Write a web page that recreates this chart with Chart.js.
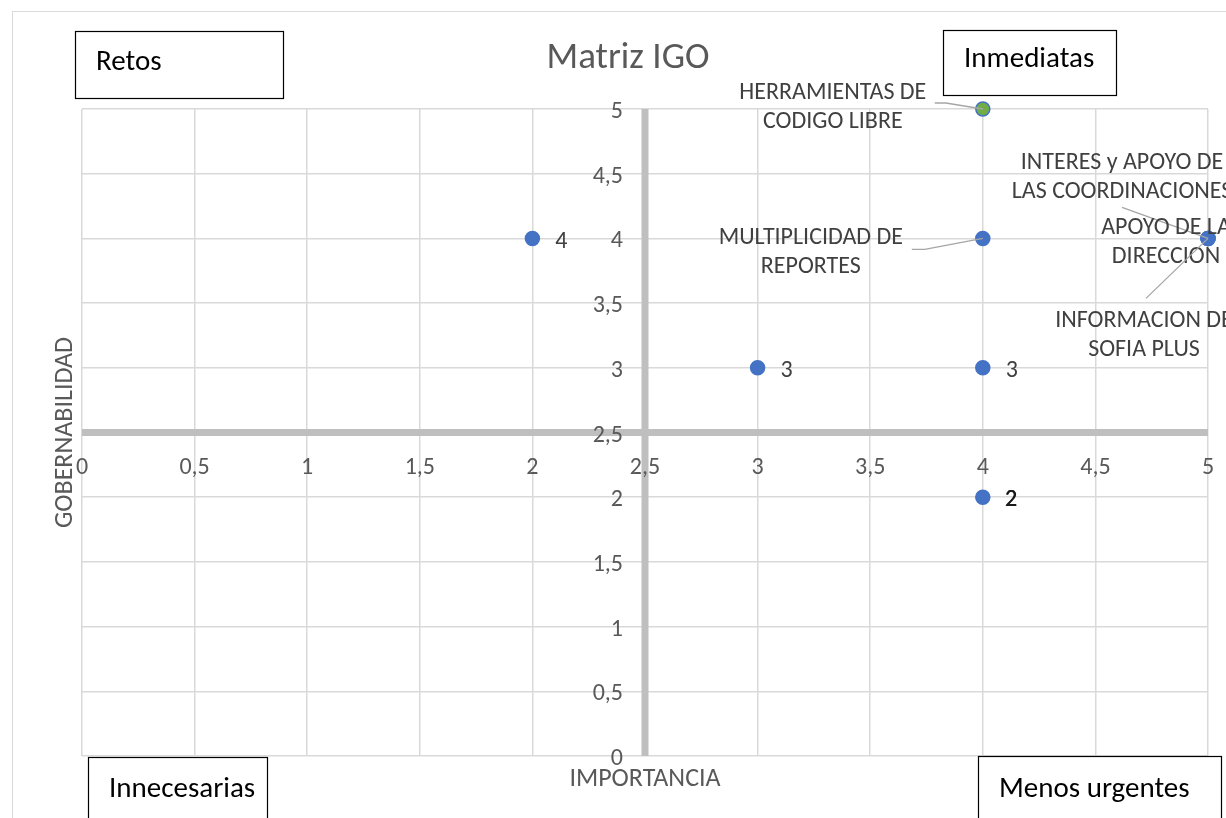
<!DOCTYPE html>
<html>
<head>
<meta charset="utf-8">
<title>Matriz IGO</title>
<script src="https://cdn.jsdelivr.net/npm/chart.js@4/dist/chart.umd.min.js"></script>
<style>
  html, body { margin: 0; padding: 0; background: #ffffff; }
  #wrap { width: 1226px; height: 818px; position: relative; }
</style>
</head>
<body>
<div id="wrap"><canvas id="matriz" width="1226" height="818"></canvas></div>
<script>
// Factores evaluados: importancia (x) y gobernabilidad (y)
const factorLabels = [
  ['HERRAMIENTAS DE', 'CODIGO LIBRE'],
  ['MULTIPLICIDAD DE', 'REPORTES'],
  ['INTERES y APOYO DE', 'LAS COORDINACIONES'],
  ['APOYO DE LA', 'DIRECCION'],
  ['INFORMACION DE', 'SOFIA PLUS'],
  null,
  null,
  null,
  null
];
const importancia   = [4, 4, 5, 5, 5, 2, 3, 4, 4];
const gobernabilidad = [5, 4, 4, 4, 4, 4, 3, 3, 2];

// Escalas de 0 a 5 en pasos de 0,5
const tickValues = [0, 0.5, 1, 1.5, 2, 2.5, 3, 3.5, 4, 4.5, 5];
const axisCross = 2.5;

const chartTitle = 'Matriz IGO';
const xAxisTitle = 'IMPORTANCIA';
const yAxisTitle = 'GOBERNABILIDAD';
const quadrantNames = ['Retos', 'Inmediatas', 'Innecesarias', 'Menos urgentes'];

// Colores y tipografía
const FONT = 'Carlito, Lato, "Open Sans", sans-serif';
const BLUE = '#4472C4';
const GREEN = '#70AD47';
const TEXT_GRAY = '#595959';
const LABEL_GRAY = '#404040';
const GRID = '#d9d9d9';
const AXIS = '#bfbfbf';
const TEXT_SHIFT = 2; // ajuste vertical del texto centrado

// Ubicación de cada etiqueta respecto a su punto (centro del texto) y quiebres de la línea guía
const labelPlacement = [
  { dx: -150, dy: -4, leader: [[-48, -6], [-37, -6]] },
  { dx: -172, dy: 12, leader: [[-71, 11], [-58, 11]] },
  { dx: -86, dy: -63, leader: [[-86, -31]] },
  { dx: -42, dy: 2, leader: null },
  { dx: -64, dy: 95, leader: [[-62, 60]] },
  { dx: 29, dy: 2, leader: null },
  { dx: 29, dy: 1, leader: null },
  { dx: 29, dy: 1, leader: null },
  { dx: 28, dy: 1, leader: null, strong: true }
];

const points = importancia.map((x, i) => ({ x: x, y: gobernabilidad[i] }));
const fmt = v => String(v).replace('.', ',');

// Marco del gráfico, ejes cruzados en 2,5 y rótulos
const matrixDecor = {
  id: 'matrixDecor',
  beforeDraw(chart) {
    const ctx = chart.ctx;
    ctx.save();
    ctx.fillStyle = '#ffffff';
    ctx.fillRect(0, 0, chart.width, chart.height);
    ctx.strokeStyle = GRID;
    ctx.lineWidth = 1;
    ctx.strokeRect(12.5, 11.5, chart.width + 20, chart.height + 20);
    ctx.restore();
  },
  beforeDatasetsDraw(chart) {
    const ctx = chart.ctx;
    const xs = chart.scales.x, ys = chart.scales.y;
    const area = chart.chartArea;
    const cx = xs.getPixelForValue(axisCross);
    const cy = ys.getPixelForValue(axisCross);
    ctx.save();
    ctx.strokeStyle = AXIS;
    ctx.lineWidth = 7;
    ctx.beginPath();
    ctx.moveTo(area.left, cy);
    ctx.lineTo(area.right, cy);
    ctx.moveTo(cx, area.top);
    ctx.lineTo(cx, area.bottom);
    ctx.stroke();

    // Rótulos de los ejes
    ctx.fillStyle = TEXT_GRAY;
    ctx.font = '24px ' + FONT;
    ctx.textAlign = 'center';
    ctx.textBaseline = 'middle';
    tickValues.forEach(v => {
      ctx.fillText(fmt(v), xs.getPixelForValue(v), cy + 33 + TEXT_SHIFT);
    });
    ctx.textAlign = 'right';
    tickValues.forEach(v => {
      ctx.fillText(fmt(v), cx - 22, ys.getPixelForValue(v) + 1 + TEXT_SHIFT);
    });
    ctx.restore();
  },
  afterDatasetsDraw(chart) {
    const ctx = chart.ctx;
    const xs = chart.scales.x, ys = chart.scales.y;
    ctx.save();
    points.forEach((p, i) => {
      const px = xs.getPixelForValue(p.x);
      const py = ys.getPixelForValue(p.y);
      const pl = labelPlacement[i];
      if (pl.leader) {
        ctx.strokeStyle = '#a6a6a6';
        ctx.lineWidth = 1.3;
        ctx.beginPath();
        pl.leader.forEach((o, k) => {
          if (k === 0) ctx.moveTo(px + o[0], py + o[1]);
          else ctx.lineTo(px + o[0], py + o[1]);
        });
        ctx.lineTo(px, py);
        ctx.stroke();
      }
      const lines = factorLabels[i] || [fmt(p.y)];
      ctx.font = '24px ' + FONT;
      ctx.fillStyle = pl.strong ? '#1a1a1a' : LABEL_GRAY;
      ctx.textAlign = 'center';
      ctx.textBaseline = 'middle';
      const lh = 29;
      const y0 = py + pl.dy + TEXT_SHIFT - (lines.length - 1) * lh / 2;
      lines.forEach((t, k) => {
        ctx.fillText(t, px + pl.dx, y0 + k * lh);
        if (pl.strong) ctx.fillText(t, px + pl.dx + 0.6, y0 + k * lh);
      });
    });
    ctx.restore();
  },
  afterDraw(chart) {
    const ctx = chart.ctx;
    const xs = chart.scales.x;
    const area = chart.chartArea;
    ctx.save();
    // Título
    ctx.fillStyle = TEXT_GRAY;
    ctx.font = '37px ' + FONT;
    ctx.textAlign = 'center';
    ctx.textBaseline = 'middle';
    ctx.fillText(chartTitle, 628, 57 + TEXT_SHIFT);

    // Títulos de ejes
    ctx.font = '26px ' + FONT;
    ctx.fillText(xAxisTitle, xs.getPixelForValue(axisCross), 777 + TEXT_SHIFT);
    ctx.translate(65, (area.top + area.bottom) / 2);
    ctx.rotate(-Math.PI / 2);
    ctx.fillText(yAxisTitle, 0, 0);
    ctx.setTransform(1, 0, 0, 1, 0, 0);

    // Cuadros de cuadrante
    const boxes = [
      { x: 75, y: 31, w: 208, h: 67 },
      { x: 943, y: 30, w: 173, h: 65 },
      { x: 88, y: 757, w: 179, h: 80 },
      { x: 978, y: 756, w: 243, h: 80 }
    ];
    const textY = [60, 57, 787, 787];
    ctx.font = '29px ' + FONT;
    ctx.textAlign = 'left';
    boxes.forEach((b, i) => {
      ctx.fillStyle = '#ffffff';
      ctx.fillRect(b.x, b.y, b.w, b.h);
      ctx.strokeStyle = '#000000';
      ctx.lineWidth = 1.2;
      ctx.strokeRect(b.x + 0.5, b.y + 0.5, b.w, b.h);
      ctx.fillStyle = '#000000';
      ctx.fillText(quadrantNames[i], b.x + 21, textY[i] + TEXT_SHIFT + 1);
    });
    ctx.restore();
  }
};

new Chart(document.getElementById('matriz'), {
  type: 'scatter',
  data: {
    datasets: [{
      data: points,
      pointRadius: 7,
      pointHoverRadius: 7,
      pointBackgroundColor: points.map((p, i) => i === 0 ? GREEN : BLUE),
      pointBorderColor: BLUE,
      pointBorderWidth: 1.5,
      clip: false
    }]
  },
  options: {
    responsive: false,
    animation: false,
    layout: { padding: { left: 82, top: 109, right: 18, bottom: 62 } },
    plugins: { legend: { display: false }, tooltip: { enabled: false }, title: { display: false } },
    scales: {
      x: {
        type: 'linear', min: 0, max: 5,
        ticks: { display: false, stepSize: 0.5 },
        grid: { color: GRID, lineWidth: 1.5, drawTicks: false },
        border: { display: false }
      },
      y: {
        type: 'linear', min: 0, max: 5,
        ticks: { display: false, stepSize: 0.5 },
        grid: { color: GRID, lineWidth: 1.5, drawTicks: false },
        border: { display: false }
      }
    }
  },
  plugins: [matrixDecor]
});
</script>
</body>
</html>
